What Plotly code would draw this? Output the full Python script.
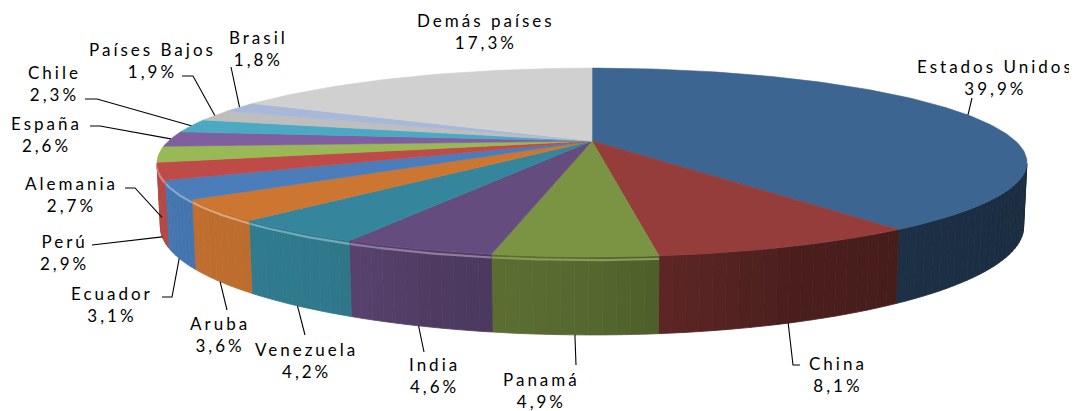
import numpy as np
import plotly.graph_objects as go

# ---------------- data ----------------
countries = ["Estados Unidos", "China", "Panamá", "India", "Venezuela", "Aruba", "Ecuador",
             "Perú", "Alemania", "España", "Chile", "Países Bajos", "Brasil", "Demás países"]
shares = [39.9, 8.1, 4.9, 4.6, 4.2, 3.6, 3.1, 2.9, 2.7, 2.6, 2.3, 1.9, 1.8, 17.3]

# ---------------- style ----------------
colors = ["#3D6592", "#953D3B", "#7A9443", "#654C7E", "#35869C", "#CD7632", "#4A7DBA",
          "#BE4B48", "#98B955", "#7F5F9F", "#4BA9C4", "#BEBEBE", "#A8B8D8", "#D0D0D0"]

# label layout (pixel positions of the text block centre and leader elbows)
label_pos = [(995, 77), (838, 374), (541, 390), (434, 375), (306, 360), (220, 334), (112, 304),
             (64, 252), (71, 194), (46, 134), (54, 83), (152, 60), (258, 48), (486, 31)]
leader_pts = [[(972, 98)], [(793, 365), (800, 365)], [(576, 365)], [(424, 352)], [(305, 335)],
              [(227, 310)], [(172, 297), (162, 297)], [(92, 245)], [(135, 188), (125, 188)],
              [(100, 126), (90, 126)], [(97, 99), (85, 99)], [(193, 76), (182, 76)], [(231, 67)], []]

W, H = 1077, 411
OFF = 8                  # default page body margin, compensated in the axis ranges
PHI = np.radians(12.2)   # elevation of the view
DIST = 4.29              # camera distance (in radii)
FOC = 1817               # focal length (px)
THICK = 0.149            # pie thickness (in radii)
CX, CY = 592, 141        # screen position of pie centre


def proj(theta, z):
    X = np.sin(theta)
    Y = np.cos(theta)
    d = DIST + Y * np.cos(PHI) - z * np.sin(PHI)
    u = FOC * X / d
    v = FOC * (Y * np.sin(PHI) + z * np.cos(PHI)) / d
    return CX + u, CY - v


def hex2rgb(h):
    h = h.lstrip("#")
    return np.array([int(h[i:i + 2], 16) for i in (0, 2, 4)], dtype=float)


def rgb(c):
    c = np.clip(c, 0, 255)
    return "rgb(%d,%d,%d)" % tuple(int(round(x)) for x in c)


def wall_factor(theta):
    X = np.sin(theta)
    return np.interp(X, [-1, -0.5, -0.3, 0, 0.37, 1], [0.95, 0.9, 0.78, 0.7, 0.5, 0.43])


total = sum(shares)
cum = np.concatenate([[0], np.cumsum(shares)]) / total * 2 * np.pi
vis_lo = np.arccos(-1 / (DIST * np.cos(PHI)))
vis_hi = 2 * np.pi - vis_lo

fig = go.Figure()

# ---- side walls (visible front part), drawn as shaded strips ----
for i, col in enumerate(colors):
    a0, a1 = max(cum[i], vis_lo), min(cum[i + 1], vis_hi)
    if a1 <= a0:
        continue
    n = int(np.ceil((a1 - a0) / np.radians(1.5)))
    edges = np.linspace(a0, a1, n + 1)
    base = hex2rgb(col)
    for s0, s1 in zip(edges[:-1], edges[1:]):
        t = np.linspace(s0, s1, 4)
        xt, yt = proj(t, 0)
        xb, yb = proj(t[::-1], -THICK)
        c = rgb(base * wall_factor((s0 + s1) / 2))
        fig.add_trace(go.Scatter(x=np.concatenate([xt, xb, xt[:1]]), y=np.concatenate([yt, yb, yt[:1]]),
                                 mode="lines", fill="toself", fillcolor=c,
                                 line=dict(color=c, width=0.8), hoverinfo="skip", showlegend=False))
    # rim highlight
    t = np.linspace(a0, a1, 40)
    strength = float(np.interp(np.sin((a0 + a1) / 2), [-1, -0.2, 0.05], [0.35, 0.25, 0.0]))
    if strength > 0:
        xt, yt = proj(t, -0.006)
        hc = rgb(base + (255 - base) * strength)
        fig.add_trace(go.Scatter(x=xt, y=yt, mode="lines", line=dict(color=hc, width=2.2),
                                 hoverinfo="skip", showlegend=False))

# ---- top faces ----
for i, col in enumerate(colors):
    n = max(4, int(np.ceil((cum[i + 1] - cum[i]) / np.radians(1))))
    t = np.linspace(cum[i], cum[i + 1], n + 1)
    xa, ya = proj(t, 0)
    xs = np.concatenate([[CX], xa, [CX]])
    ys = np.concatenate([[CY], ya, [CY]])
    fig.add_trace(go.Scatter(x=xs, y=ys, mode="lines", fill="toself", fillcolor=col,
                             line=dict(color=col, width=0.6), name=countries[i],
                             hoverinfo="name", showlegend=False))

# ---- labels and leader lines ----
annotations = []
for i, name in enumerate(countries):
    mid = (cum[i] + cum[i + 1]) / 2
    z = -THICK if np.cos(mid) < 0 else 0.0
    ax, ay = proj(mid, z)
    pts = leader_pts[i]
    if pts:
        lx = [ax] + [p[0] for p in pts]
        ly = [ay] + [p[1] for p in pts]
        fig.add_trace(go.Scatter(x=lx, y=ly, mode="lines", line=dict(color="black", width=1.1),
                                 hoverinfo="skip", showlegend=False))
    pct = ("%.1f" % shares[i]).replace(".", ",") + "%"
    sp = "<span style='letter-spacing:3px'>"
    annotations.append(dict(x=label_pos[i][0], y=label_pos[i][1], xref="x", yref="y",
                            text=f"{sp}{name}</span><br>{sp}{pct}</span>", showarrow=False,
                            xanchor="center", yanchor="middle", align="center",
                            font=dict(family="Lato, 'Open Sans', sans-serif", size=17, color="#000000")))

fig.update_layout(
    width=W, height=H, autosize=False,
    margin=dict(l=0, r=0, t=0, b=0),
    paper_bgcolor="white", plot_bgcolor="white",
    xaxis=dict(range=[OFF, W + OFF], visible=False, fixedrange=True),
    yaxis=dict(range=[H + OFF, OFF], visible=False, fixedrange=True),
    annotations=annotations,
)

fig.write_html("out.html")
